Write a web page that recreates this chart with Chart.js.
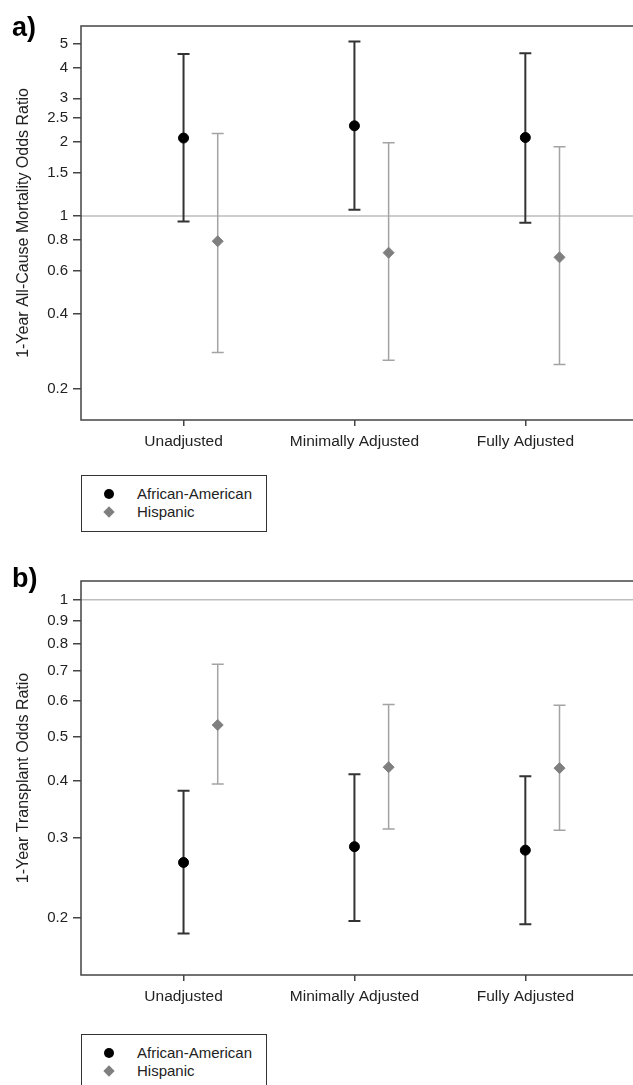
<!DOCTYPE html>
<html>
<head>
<meta charset="utf-8">
<script src="https://cdn.jsdelivr.net/npm/chart.js@4"></script>
<style>
  body { margin: 0; background: #fff; width: 633px; height: 1085px; overflow: hidden; position: relative; font-family: "Liberation Sans", Arial, sans-serif; }
  .panel { position: absolute; left: 0; width: 633px; height: 460px; }
  .legend { position: absolute; left: 81px; width: 186px; height: 57px; border: 1px solid #333; box-sizing: border-box; padding-top: 9px; font-size: 15px; color: #222; }
  .legend .row { height: 18px; line-height: 18px; position: relative; padding-left: 55px; white-space: nowrap; }
  .legend .mark { position: absolute; left: 22px; top: 4px; width: 10px; height: 10px; }
</style>
</head>
<body>
<div class="panel" style="top:0"><canvas id="mortalityChart"></canvas></div>
<div class="legend" id="mortalityLegend" style="top:475px"></div>
<div class="panel" style="top:555px"><canvas id="transplantChart"></canvas></div>
<div class="legend" id="transplantLegend" style="top:1034px"></div>
<script>
const categories = ['Unadjusted', 'Minimally Adjusted', 'Fully Adjusted'];
const seriesNames = ['African-American', 'Hispanic'];

// a) 1-year all-cause mortality odds ratios with 95% CI
const mortalityAA = [2.07, 2.32, 2.08];
const mortalityAALow = [0.95, 1.06, 0.94];
const mortalityAAHigh = [4.54, 5.10, 4.57];
const mortalityHisp = [0.79, 0.71, 0.68];
const mortalityHispLow = [0.28, 0.26, 0.25];
const mortalityHispHigh = [2.16, 1.98, 1.91];
const mortalityTicks = [0.2, 0.4, 0.6, 0.8, 1, 1.5, 2, 2.5, 3, 4, 5];

// b) 1-year transplant odds ratios with 95% CI
const transplantAA = [0.265, 0.287, 0.282];
const transplantAALow = [0.185, 0.197, 0.194];
const transplantAAHigh = [0.381, 0.414, 0.410];
const transplantHisp = [0.531, 0.429, 0.427];
const transplantHispLow = [0.394, 0.314, 0.312];
const transplantHispHigh = [0.722, 0.589, 0.587];
const transplantTicks = [0.2, 0.3, 0.4, 0.5, 0.6, 0.7, 0.8, 0.9, 1];

const dodge = 0.2;
const aaColor = '#000000';
const aaBarColor = '#333333';
const hispColor = '#7f7f7f';
const hispBarColor = '#a3a3a3';
const fontFamily = '"Liberation Sans", Arial, sans-serif';

Chart.defaults.font.family = fontFamily;
Chart.defaults.color = '#222';

// draws reference line, error bars, frame and panel letter
const panelPlugin = {
    id: 'panel',
    beforeDatasetsDraw(chart, args, opts) {
        const { ctx, chartArea: a, scales: { x, y } } = chart;
        ctx.save();

        const y1 = y.getPixelForValue(1);
        ctx.strokeStyle = '#bdbdbd';
        ctx.lineWidth = 1.5;
        ctx.beginPath();
        ctx.moveTo(a.left, y1);
        ctx.lineTo(a.right, y1);
        ctx.stroke();

        opts.bars.forEach(bar => {
            ctx.strokeStyle = bar.color;
            ctx.lineWidth = bar.width;
            bar.low.forEach((lo, i) => {
                const px = x.getPixelForValue(i + bar.shift);
                const pLo = y.getPixelForValue(lo);
                const pHi = y.getPixelForValue(bar.high[i]);
                ctx.beginPath();
                ctx.moveTo(px, pLo);
                ctx.lineTo(px, pHi);
                ctx.moveTo(px - 6, pLo);
                ctx.lineTo(px + 6, pLo);
                ctx.moveTo(px - 6, pHi);
                ctx.lineTo(px + 6, pHi);
                ctx.stroke();
            });
        });

        ctx.strokeStyle = '#444';
        ctx.lineWidth = 1.5;
        ctx.beginPath();
        ctx.moveTo(a.right + 2, a.top);
        ctx.lineTo(a.left, a.top);
        ctx.lineTo(a.left, a.bottom);
        ctx.lineTo(a.right + 2, a.bottom);
        ctx.stroke();

        ctx.fillStyle = '#000';
        ctx.font = 'bold 27px ' + fontFamily;
        ctx.textBaseline = 'alphabetic';
        ctx.fillText(opts.label, 12, opts.labelY);
        ctx.restore();
    }
};

function makeChart(canvasId, legendId, cfg) {
    const toPoints = (vals, shift) => vals.map((v, i) => ({ x: i + shift, y: v }));
    const chart = new Chart(document.getElementById(canvasId), {
        type: 'scatter',
        data: {
            datasets: [{
                label: seriesNames[0],
                data: toPoints(cfg.aa, 0),
                pointStyle: 'circle',
                pointRadius: 5,
                backgroundColor: aaColor,
                borderColor: aaColor
            }, {
                label: seriesNames[1],
                data: toPoints(cfg.hisp, dodge),
                pointStyle: 'rectRot',
                pointRadius: 5.5,
                backgroundColor: hispColor,
                borderColor: hispColor
            }]
        },
        options: {
            responsive: true,
            maintainAspectRatio: false,
            animation: false,
            layout: { autoPadding: false, padding: { top: 26, right: 0, left: 0, bottom: 0 } },
            plugins: {
                legend: { display: false },
                tooltip: { enabled: false },
                panel: {
                    label: cfg.label,
                    labelY: cfg.labelY,
                    bars: [
                        { low: cfg.aaLow, high: cfg.aaHigh, shift: 0, color: aaBarColor, width: 2 },
                        { low: cfg.hispLow, high: cfg.hispHigh, shift: dodge, color: hispBarColor, width: 1.5 }
                    ]
                }
            },
            scales: {
                x: {
                    type: 'linear',
                    min: -0.6,
                    max: 2.63,
                    afterBuildTicks: scale => { scale.ticks = categories.map((c, i) => ({ value: i })); },
                    afterFit: scale => { scale.height = 40; },
                    border: { display: false },
                    grid: { drawOnChartArea: false, tickLength: 6, color: '#444', lineWidth: 1.5 },
                    ticks: { font: { size: 15.5 }, padding: 6, autoSkip: false, maxRotation: 0, callback: v => categories[v] }
                },
                y: {
                    type: 'logarithmic',
                    min: cfg.yMin,
                    max: cfg.yMax,
                    afterBuildTicks: scale => { scale.ticks = cfg.ticks.map(v => ({ value: v })); },
                    afterFit: scale => { scale.width = 81; },
                    border: { display: false },
                    grid: { drawOnChartArea: false, tickLength: 8, color: '#444', lineWidth: 1.5 },
                    ticks: { font: { size: 15 }, padding: 5, autoSkip: false, callback: v => String(v) },
                    title: { display: true, text: cfg.title, font: { size: 16 }, padding: { top: 14, bottom: 0 } }
                }
            }
        },
        plugins: [panelPlugin]
    });

    // legend box built from the chart's datasets
    const legend = document.getElementById(legendId);
    chart.data.datasets.forEach(ds => {
        const row = document.createElement('div');
        row.className = 'row';
        const mark = document.createElement('span');
        mark.className = 'mark';
        mark.style.background = ds.backgroundColor;
        if (ds.pointStyle === 'circle') {
            mark.style.borderRadius = '50%';
        } else {
            mark.style.width = '8px';
            mark.style.height = '8px';
            mark.style.left = '23px';
            mark.style.top = '5px';
            mark.style.transform = 'rotate(45deg)';
        }
        row.appendChild(mark);
        row.appendChild(document.createTextNode(ds.label));
        legend.appendChild(row);
    });
    return chart;
}

makeChart('mortalityChart', 'mortalityLegend', {
    label: 'a)', labelY: 36,
    title: '1-Year All-Cause Mortality Odds Ratio',
    aa: mortalityAA, aaLow: mortalityAALow, aaHigh: mortalityAAHigh,
    hisp: mortalityHisp, hispLow: mortalityHispLow, hispHigh: mortalityHispHigh,
    ticks: mortalityTicks, yMin: 0.149, yMax: 5.89
});

makeChart('transplantChart', 'transplantLegend', {
    label: 'b)', labelY: 32,
    title: '1-Year Transplant Odds Ratio',
    aa: transplantAA, aaLow: transplantAALow, aaHigh: transplantAAHigh,
    hisp: transplantHisp, hispLow: transplantHispLow, hispHigh: transplantHispHigh,
    ticks: transplantTicks, yMin: 0.150, yMax: 1.10
});
</script>
</body>
</html>
